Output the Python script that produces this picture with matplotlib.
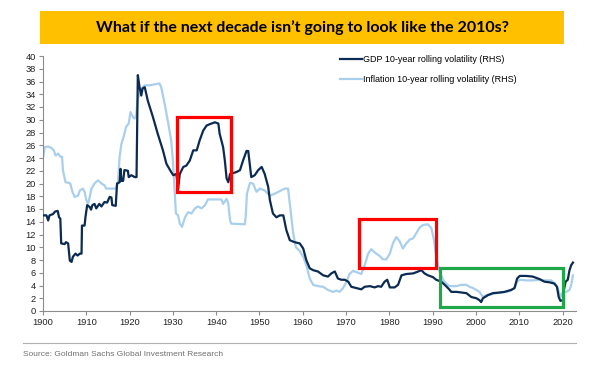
import matplotlib
matplotlib.use("Agg")
from matplotlib import pyplot as plt
from matplotlib.patches import Rectangle
import numpy as np

# GDP 10-year rolling volatility
gdp_years = [1900.0, 1900.8, 1901.2, 1901.5, 1902.3, 1902.8, 1903.4, 1903.7, 1904.0, 1904.2,
             1905.0, 1905.3, 1905.8, 1906.2, 1906.6, 1906.9, 1907.5, 1908.0, 1908.5, 1908.9,
             1909.0, 1909.6, 1909.8, 1910.2, 1910.8, 1911.1, 1911.4, 1911.9, 1912.3, 1913.0,
             1913.5, 1914.2, 1914.8, 1915.4, 1915.8, 1916.0, 1916.8, 1917.1, 1917.7, 1917.9,
             1918.1, 1918.5, 1918.8, 1919.6, 1919.8, 1920.4, 1921.2, 1921.6, 1921.9, 1922.3,
             1922.7, 1923.0, 1923.5, 1924.2, 1925.4, 1926.5, 1927.7, 1928.5, 1929.6, 1930.1,
             1930.8, 1931.2, 1931.6, 1932.4, 1933.1, 1933.9, 1934.7, 1935.5, 1936.2, 1937.0,
             1937.8, 1938.5, 1939.7, 1940.5, 1940.8, 1941.6, 1942.0, 1942.4, 1942.8, 1943.2,
             1944.7, 1945.5, 1946.2, 1947.0, 1947.4, 1948.1, 1948.9, 1949.7, 1950.5, 1951.2,
             1952.0, 1952.4, 1953.1, 1953.9, 1954.7, 1955.5, 1956.2, 1957.0, 1958.1, 1959.3,
             1960.1, 1960.8, 1961.6, 1962.4, 1963.5, 1964.7, 1965.8, 1966.6, 1967.4, 1968.1,
             1968.9, 1969.7, 1970.5, 1971.2, 1972.4, 1973.5, 1974.3, 1975.5, 1976.6, 1977.4,
             1978.1, 1978.9, 1979.5, 1980.1, 1981.2, 1982.0, 1982.8, 1983.9, 1985.5, 1986.6,
             1987.4, 1988.1, 1988.9, 1990.1, 1990.8, 1992.0, 1993.1, 1993.8, 1994.3, 1995.5,
             1996.6, 1997.8, 1998.9, 2000.1, 2000.8, 2001.2, 2001.6, 2002.8, 2003.9, 2005.5,
             2006.6, 2008.1, 2008.9, 2009.5, 2010.1, 2011.6, 2013.1, 2014.7, 2015.8, 2017.0,
             2018.1, 2018.7, 2019.1, 2019.5, 2020.1, 2020.3, 2020.7, 2021.2, 2021.6, 2022.0,
             2022.4]
gdp_vals = [15.0, 15.0, 14.2, 15.0, 15.2, 15.6, 15.7, 14.7, 14.5, 10.6,
            10.5, 10.8, 10.6, 7.9, 7.7, 8.5, 9.0, 8.7, 9.0, 9.0,
            13.4, 13.4, 14.7, 16.6, 16.3, 15.9, 16.6, 16.8, 16.1, 16.8,
            16.4, 17.1, 17.0, 17.9, 17.8, 16.6, 16.5, 20.0, 20.2, 22.3,
            20.4, 20.4, 22.1, 22.0, 21.0, 21.3, 21.0, 21.0, 37.0, 35.1,
            33.8, 34.9, 35.1, 33.0, 30.4, 27.8, 25.2, 23.1, 21.8, 21.3,
            21.5, 19.2, 21.5, 22.6, 22.8, 23.6, 25.2, 25.2, 26.8, 28.3,
            29.1, 29.3, 29.6, 29.4, 27.8, 25.7, 23.6, 20.8, 20.2, 21.5,
            21.8, 22.1, 23.6, 25.1, 25.1, 21.0, 21.3, 22.1, 22.6, 21.5,
            19.5, 17.4, 15.3, 14.7, 15.0, 15.0, 12.7, 11.1, 10.8, 10.6,
            9.8, 8.0, 6.7, 6.4, 6.2, 5.6, 5.4, 5.9, 6.2, 5.1,
            4.9, 4.9, 4.6, 3.8, 3.6, 3.4, 3.8, 3.9, 3.7, 3.9,
            3.8, 4.6, 4.9, 3.7, 3.7, 4.1, 5.6, 5.8, 5.9, 6.2,
            6.4, 5.9, 5.6, 5.3, 4.9, 4.6, 3.9, 3.4, 3.0, 3.0,
            2.9, 2.8, 2.2, 2.0, 1.7, 1.4, 2.0, 2.5, 2.8, 2.9,
            3.0, 3.3, 3.6, 5.1, 5.5, 5.5, 5.4, 5.0, 4.6, 4.5,
            4.3, 3.8, 2.2, 1.6, 1.7, 3.3, 4.6, 4.9, 6.4, 7.2,
            7.6]

# Inflation 10-year rolling volatility
infl_years = [1900.0, 1900.4, 1901.2, 1901.9, 1902.5, 1902.9, 1903.5, 1904.0, 1904.4, 1904.6,
              1905.2, 1906.0, 1906.3, 1906.8, 1907.3, 1908.1, 1908.5, 1909.2, 1909.6, 1910.0,
              1910.4, 1910.8, 1911.2, 1911.9, 1912.7, 1913.5, 1914.2, 1914.6, 1916.8, 1917.3,
              1917.7, 1918.1, 1918.6, 1919.2, 1919.8, 1920.2, 1920.8, 1921.2, 1921.5, 1921.9,
              1922.7, 1923.5, 1924.6, 1926.2, 1926.9, 1927.3, 1928.1, 1928.8, 1929.6, 1930.0,
              1930.4, 1930.7, 1931.2, 1931.6, 1932.1, 1932.8, 1933.5, 1934.3, 1935.1, 1935.8,
              1936.6, 1937.4, 1938.1, 1941.2, 1941.6, 1942.4, 1942.8, 1943.2, 1943.5, 1946.6,
              1946.8, 1947.1, 1947.8, 1948.5, 1949.3, 1950.1, 1951.2, 1952.4, 1953.5, 1954.7,
              1955.8, 1956.6, 1957.0, 1957.8, 1958.4, 1959.3, 1960.1, 1960.8, 1961.6, 1962.4,
              1963.5, 1964.7, 1965.8, 1967.0, 1967.8, 1968.5, 1969.3, 1970.1, 1970.8, 1971.6,
              1972.8, 1973.5, 1974.3, 1975.1, 1975.8, 1976.6, 1977.8, 1978.5, 1979.3, 1980.1,
              1980.8, 1981.6, 1982.4, 1983.1, 1983.9, 1984.7, 1985.5, 1986.2, 1987.0, 1987.8,
              1988.9, 1989.7, 1990.3, 1990.8, 1991.6, 1992.4, 1993.1, 1993.9, 1995.5, 1996.6,
              1997.8, 1998.5, 1999.3, 2000.1, 2000.8, 2001.6, 2002.4, 2003.5, 2004.7, 2005.8,
              2007.0, 2008.1, 2008.9, 2009.5, 2010.1, 2011.6, 2013.1, 2014.7, 2016.2, 2017.4,
              2018.1, 2018.9, 2019.5, 2020.1, 2020.8, 2021.6, 2022.0, 2022.4]
infl_vals = [23.9, 25.7, 25.8, 25.6, 25.2, 24.4, 24.7, 24.2, 24.2, 22.1,
             20.2, 20.1, 20.0, 18.7, 17.9, 18.1, 18.9, 19.2, 18.7, 17.4,
             16.8, 17.9, 19.2, 20.0, 20.5, 20.0, 19.7, 19.2, 19.2, 20.0,
             24.2, 26.2, 27.3, 28.9, 29.4, 31.2, 30.4, 30.2, 30.7, 33.3,
             34.9, 35.4, 35.4, 35.6, 35.7, 35.1, 32.5, 29.9, 26.8, 23.6,
             19.0, 15.3, 15.0, 13.7, 13.2, 14.7, 15.5, 15.3, 16.1, 16.4,
             16.1, 16.6, 17.5, 17.5, 16.8, 17.6, 16.8, 14.2, 13.7, 13.6,
             14.7, 18.4, 20.1, 20.0, 18.7, 19.2, 18.9, 18.1, 18.4, 18.8,
             19.2, 19.2, 16.8, 12.1, 10.0, 9.4, 8.5, 7.2, 5.1, 4.1,
             3.9, 3.8, 3.3, 3.0, 3.2, 3.0, 3.6, 4.6, 5.8, 6.3,
             6.0, 5.8, 7.2, 9.0, 9.7, 9.2, 8.6, 8.1, 8.1, 9.0,
             10.6, 11.6, 10.9, 9.8, 10.6, 11.2, 11.4, 12.2, 13.1, 13.5,
             13.6, 13.0, 11.1, 8.5, 6.2, 4.9, 4.3, 3.9, 3.9, 4.1,
             4.1, 3.8, 3.6, 3.3, 3.0, 2.2, 2.5, 2.6, 2.8, 2.9,
             3.0, 3.2, 3.6, 4.6, 4.9, 4.8, 4.8, 4.9, 4.8, 4.8,
             4.4, 3.6, 2.2, 3.0, 3.0, 3.3, 4.1, 5.6]

labels = ['GDP 10-year rolling volatility (RHS)', 'Inflation 10-year rolling volatility (RHS)']

# highlight boxes: (x0, x1, y0, y1, colour)
boxes = [(1930.9, 1943.4, 18.7, 30.4, '#ff0000'),
         (1972.9, 1990.7, 6.7, 14.4, '#ff0000'),
         (1991.6, 2020.0, 0.6, 6.7, '#1fa84a')]

W, H = 607, 366
fig = plt.figure(figsize=(W / 100, H / 100), dpi=100)
fig.patch.set_facecolor('white')
plt.rcParams['font.family'] = ['Liberation Sans', 'DejaVu Sans']

# title banner
fig.patches.append(Rectangle((40 / W, 1 - 44 / H), 524 / W, 33 / H, transform=fig.transFigure,
                             facecolor='#ffc000', edgecolor='none', zorder=0))
fig.text(302 / W, 1 - 27.5 / H, 'What if the next decade isn\u2019t going to look like the 2010s?',
         ha='center', va='center', fontsize=11.5, fontweight='bold', family=['Lato', 'DejaVu Sans'],
         color='black')

ax = fig.add_axes([43 / W, 55 / H, 533 / W, 255 / H])
l2, = ax.plot(infl_years, infl_vals, color='#a9cfec', lw=1.6, zorder=2)
l1, = ax.plot(gdp_years, gdp_vals, color='#0b2b52', lw=1.6, zorder=3)

for x0, x1, y0, y1, c in boxes:
    ax.add_patch(Rectangle((x0, y0), x1 - x0, y1 - y0, fill=False, edgecolor=c, lw=2.3, zorder=4))

ax.set_xlim(1900, 2023.1)
ax.set_ylim(0, 40)
ax.set_xticks(np.arange(1900, 2021, 10))
ax.set_yticks(np.arange(0, 41, 2))
for s in ['top', 'right']:
    ax.spines[s].set_visible(False)
for s in ['left', 'bottom']:
    ax.spines[s].set_color('#8c8c8c')
    ax.spines[s].set_linewidth(0.8)
ax.tick_params(axis='both', colors='#8c8c8c', labelcolor='#222222', labelsize=6.7, length=3, width=0.8, pad=2)

ax.legend([l1, l2], labels, loc='upper left', bbox_to_anchor=(340 / W, 1 - 55 / H),
          bbox_transform=fig.transFigure, frameon=False, fontsize=6.5, handlelength=2.4,
          handletextpad=0.1, labelspacing=1.2, borderpad=0, borderaxespad=0)

# footer
fig.add_artist(plt.Line2D([23 / W, 576 / W], [1 - 343 / H, 1 - 343 / H], transform=fig.transFigure,
                          color='#b0b0b0', lw=0.8))
fig.text(23 / W, 1 - 355 / H, 'Source: Goldman Sachs Global Investment Research', ha='left', va='center',
         fontsize=6.0, color='#707070', family=['Liberation Sans Narrow', 'Liberation Sans', 'DejaVu Sans'])

fig.savefig('out.png', dpi=100)
